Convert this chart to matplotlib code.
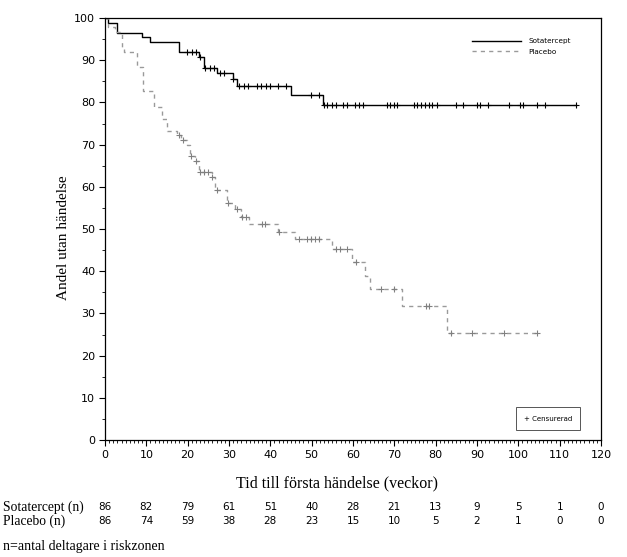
import numpy as np
import matplotlib
matplotlib.use("Agg")
import matplotlib.pyplot as plt
from matplotlib.ticker import MultipleLocator
from matplotlib.patches import Rectangle

# Kaplan-Meier steg (vecka, andel %)
sota_t = [0, 0.8, 2.8, 9.0, 10.9, 18.0, 22.8, 24.0, 27.0, 30.9, 31.9, 44.9, 52.7]
sota_s = [100, 98.9, 96.5, 95.4, 94.2, 91.9, 90.7, 88.1, 86.9, 85.5, 83.9, 81.8, 79.5]
sota_end = 114.0
sota_cens = [19.9, 21.0, 22.0, 23.0, 24.2, 25.3, 26.3, 27.8, 28.8, 31.0, 32.5, 33.6,
             34.7, 36.7, 37.7, 38.9, 39.9, 41.9, 43.8, 49.8, 51.8, 53.0, 53.8, 54.8,
             55.8, 57.7, 58.6, 60.5, 61.5, 62.5, 68.2, 69.0, 69.9, 70.7, 74.8, 75.6,
             76.5, 77.4, 78.3, 79.2, 80.3, 84.9, 86.7, 89.9, 90.7, 92.7, 97.8, 100.4,
             101.2, 104.4, 106.5, 114.0]

plac_t = [0, 0.8, 2.4, 4.0, 4.6, 7.7, 9.1, 11.9, 13.7, 14.9, 17.5, 18.5, 19.8, 20.5,
          21.7, 22.7, 25.8, 26.7, 29.5, 31.5, 32.8, 34.9, 41.8, 46.0, 54.8, 59.8,
          62.9, 64.0, 71.8, 82.8]
plac_s = [100, 97.8, 96.6, 93.0, 92.0, 88.3, 82.8, 78.8, 76.0, 73.3, 72.3, 71.2, 69.9,
          67.4, 66.1, 63.6, 62.4, 59.2, 56.2, 54.7, 52.9, 51.3, 49.4, 47.6, 45.3, 42.3,
          38.9, 35.7, 31.8, 25.3]
plac_end = 104.6
plac_cens = [17.9, 18.8, 20.7, 21.9, 23.0, 24.0, 25.0, 26.0, 27.0, 29.8, 31.9, 33.1,
             34.0, 37.9, 38.7, 42.0, 46.9, 48.9, 49.8, 50.8, 51.8, 55.8, 56.9, 58.6,
             60.8, 66.7, 69.8, 77.7, 78.5, 83.6, 88.7, 96.5, 104.6]

# Antal i riskzonen
risk_weeks = [0, 10, 20, 30, 40, 50, 60, 70, 80, 90, 100, 110, 120]
risk_sota = [86, 82, 79, 61, 51, 40, 28, 21, 13, 9, 5, 1, 0]
risk_plac = [86, 74, 59, 38, 28, 23, 15, 10, 5, 2, 1, 0, 0]


def km_at(times, surv, x):
    i = np.searchsorted(times, x, side="right") - 1
    return np.array(surv)[i]


fig = plt.figure(figsize=(6.27, 5.57), dpi=100)
ax = fig.add_axes([0.1675, 0.21, 0.791, 0.7577])

grey = "#9a9a9a"

ax.step(sota_t + [sota_end], sota_s + [sota_s[-1]], where="post",
        color="black", lw=1.0, label="Sotatercept")
ax.plot(sota_cens, km_at(sota_t, sota_s, sota_cens), "+", color="black",
        ms=5, mew=0.8)

ax.step(plac_t + [plac_end], plac_s + [plac_s[-1]], where="post",
        color=grey, lw=1.0, ls=(0, (3, 3)), label="Placebo")
ax.plot(plac_cens, km_at(plac_t, plac_s, plac_cens), "+", color="#808080",
        ms=5, mew=0.8)

ax.set_xlim(0, 120)
ax.set_ylim(0, 100)
ax.xaxis.set_major_locator(MultipleLocator(10))
ax.xaxis.set_minor_locator(MultipleLocator(1))
ax.yaxis.set_major_locator(MultipleLocator(10))
ax.yaxis.set_minor_locator(MultipleLocator(5))
ax.tick_params(which="major", direction="out", length=4, width=0.8,
               labelsize=8, pad=3)
ax.tick_params(which="minor", direction="out", length=2, width=0.6)
for sp in ax.spines.values():
    sp.set_linewidth(0.9)

ax.set_xlabel("Tid till första händelse (veckor)", family="Liberation Serif",
              fontsize=11.5)
ax.set_ylabel("Andel utan händelse", family="Liberation Serif", fontsize=11)
ax.xaxis.set_label_coords(0.468, -0.083)
ax.yaxis.set_label_coords(-0.071, 0.48)

leg = ax.legend(loc="upper right", frameon=False, fontsize=5.2,
                handlelength=6.8, bbox_to_anchor=(0.952, 0.967),
                labelspacing=0.6, handletextpad=1.0)

ax.add_patch(Rectangle((0.8286, 0.0237), 0.129, 0.0545, transform=ax.transAxes,
                       fill=False, ec="#555555", lw=0.7))
ax.text(0.893, 0.051, "+ Censurerad", transform=ax.transAxes, fontsize=5,
        ha="center", va="center")

# riskzon-tabell
row_y = [0.0898, 0.0646]
for label, counts, yy in [("Sotatercept (n)", risk_sota, row_y[0]),
                          ("Placebo (n)", risk_plac, row_y[1])]:
    fig.text(0.005, yy, label, family="Liberation Serif", fontsize=9.8, va="center")
    for w, n in zip(risk_weeks, counts):
        xf = ax.transData.transform((w, 0))[0]
        xf = fig.transFigure.inverted().transform((xf, 0))[0]
        fig.text(xf, yy, str(n), fontsize=7.5, ha="center", va="center")

fig.text(0.005, 0.0197, "n=antal deltagare i riskzonen", family="Liberation Serif",
         fontsize=10, va="center")

fig.savefig("out.png", dpi=100)
